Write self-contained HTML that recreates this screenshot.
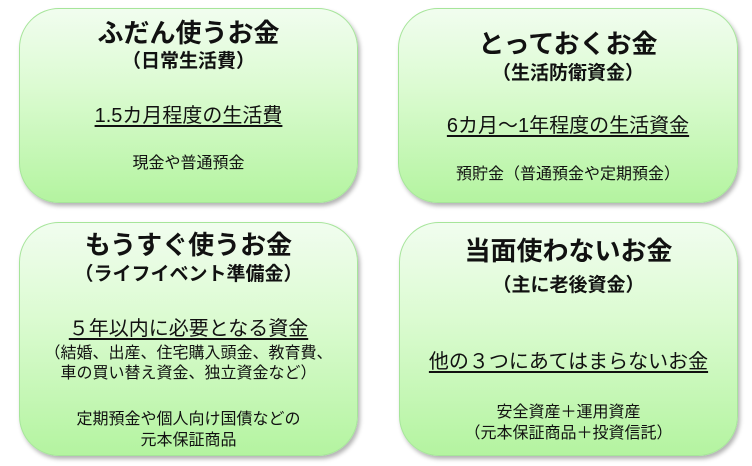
<!DOCTYPE html>
<html><head><meta charset="utf-8"><style>
body{margin:0;width:752px;height:466px;background:#fff;position:relative;overflow:hidden;font-family:"Liberation Sans","Noto Sans CJK JP",sans-serif;color:#111}
.b{position:absolute;border-radius:40px;border:1.5px solid #a6e59a;background:linear-gradient(#f1fdef,#dcfbd2 40%,#b4f4a0);box-shadow:2px 3px 4px rgba(0,0,0,.3);box-sizing:border-box}
.t{position:absolute;left:0;width:100%;text-align:center;white-space:nowrap;line-height:1}
.h{font-size:26px;font-weight:bold}
.s{font-size:19px;font-weight:bold}
.u{font-size:20px;text-decoration:underline;text-underline-offset:3px}
.m{font-size:16px}
</style></head><body>
<div class="b" style="left:19px;top:8px;width:339px;height:195px">
<div class="t h" style="top:11px">ふだん使うお金</div>
<div class="t s" style="top:43px">（日常生活費）</div>
<div class="t u" style="top:97px">1.5カ月程度の生活費</div>
<div class="t m" style="top:147px">現金や普通預金</div>
</div>
<div class="b" style="left:398px;top:8px;width:340px;height:195px">
<div class="t h" style="top:22px">とっておくお金</div>
<div class="t s" style="top:55px">（生活防衛資金）</div>
<div class="t u" style="top:107px">6カ月～1年程度の生活資金</div>
<div class="t m" style="top:158px">預貯金（普通預金や定期預金）</div>
</div>
<div class="b" style="left:19px;top:222px;width:339px;height:234px">
<div class="t h" style="top:9px">もうすぐ使うお金</div>
<div class="t s" style="top:42px">（ライフイベント準備金）</div>
<div class="t u" style="top:96px">５年以内に必要となる資金</div>
<div class="t m" style="top:121px;line-height:20px">（結婚、出産、住宅購入頭金、教育費、<br>車の買い替え資金、独立資金など）</div>
<div class="t m" style="top:186px;line-height:21px">定期預金や個人向け国債などの<br>元本保証商品</div>
</div>
<div class="b" style="left:399px;top:222px;width:339px;height:234px">
<div class="t h" style="top:15px">当面使わないお金</div>
<div class="t s" style="top:53px">（主に老後資金）</div>
<div class="t u" style="top:129px">他の３つにあてはまらないお金</div>
<div class="t m" style="top:179px;line-height:21px">安全資産＋運用資産<br>（元本保証商品＋投資信託）</div>
</div>
</body></html>
